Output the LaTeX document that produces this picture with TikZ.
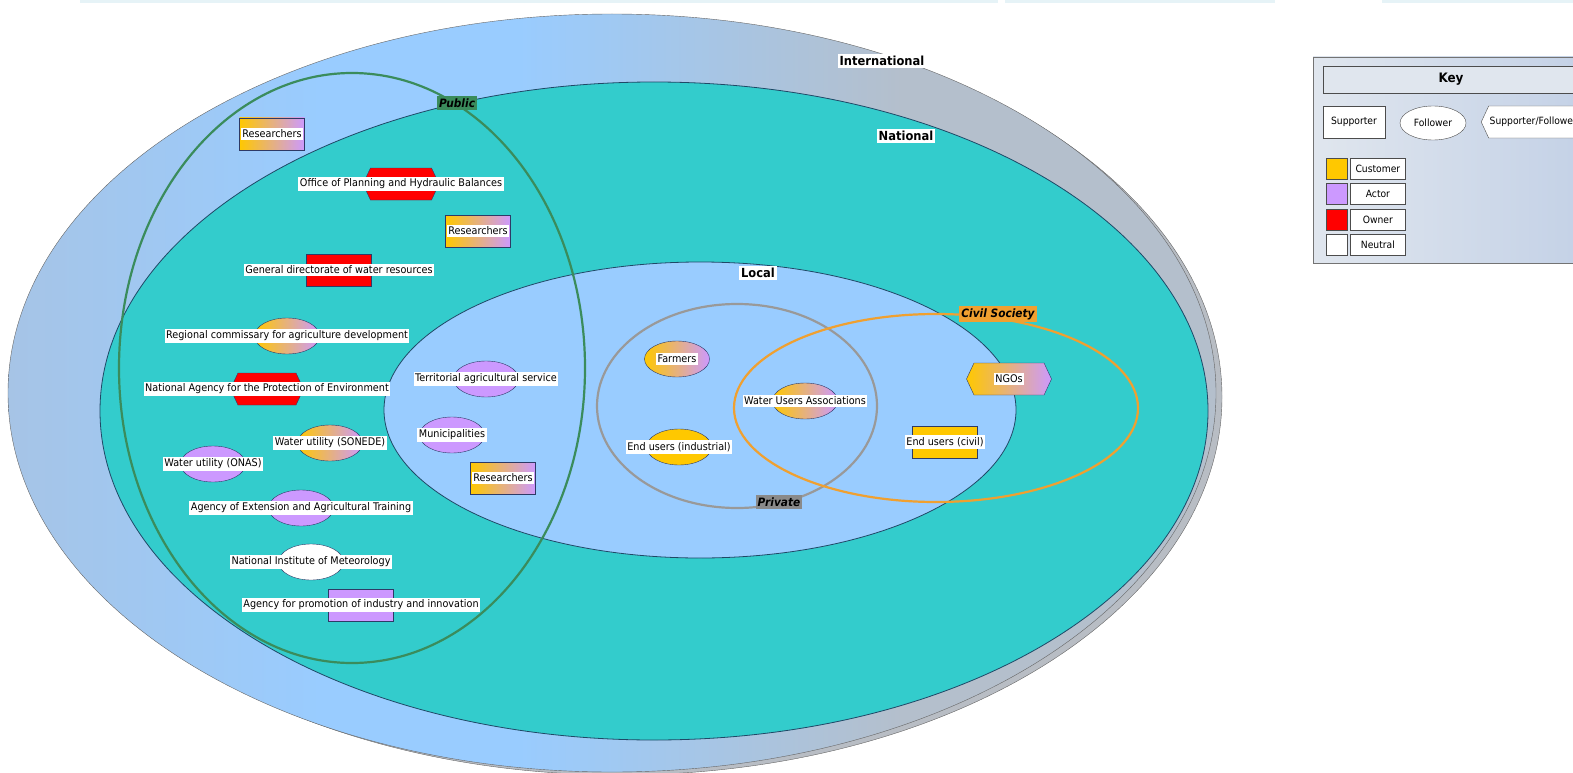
\documentclass[tikz,border=0pt]{standalone}
\usepackage{fontspec}
\setmainfont{DejaVu Sans}[FakeStretch=0.92]
\usetikzlibrary{shapes.geometric,shapes.symbols,positioning}

\definecolor{custyellow}{HTML}{FFC800}
\definecolor{actpurple}{HTML}{CC99FF}
\definecolor{ownred}{HTML}{FF0000}
\definecolor{edgeblue}{HTML}{2E3A66}
\definecolor{intlight}{HTML}{A6C4E6}
\definecolor{intmid}{HTML}{99CCFF}
\definecolor{intgrey}{HTML}{B4BFCC}
\definecolor{shadowgrey}{HTML}{B8BDC4}
\definecolor{natteal}{HTML}{33CCCC}
\definecolor{localblue}{HTML}{99CCFF}
\definecolor{zoneline}{HTML}{1F4866}
\definecolor{pubgreen}{HTML}{3A8C5C}
\definecolor{privgrey}{HTML}{999999}
\definecolor{civorange}{HTML}{F0A030}
\definecolor{keylight}{HTML}{E0E6EE}
\definecolor{keydark}{HTML}{C2D0E6}
\definecolor{stripcyan}{HTML}{E6F3F7}

\pgfdeclarehorizontalshading{intshade}{100bp}{color(0bp)=(intlight); color(25bp)=(intlight); color(38bp)=(intmid); color(46bp)=(intmid); color(62bp)=(intgrey); color(100bp)=(intgrey)}

\begin{document}
\begin{tikzpicture}[x=1pt,y=-1pt,
    zone/.style={draw=zoneline, line width=0.8pt},
    group/.style={line width=2.2pt},
    grouptag/.style={font=\fontsize{11.5}{13}\selectfont\bfseries\itshape, inner xsep=2pt, inner ysep=2.6pt},
    levtag/.style={fill=white, font=\fontsize{12.5}{14}\selectfont\bfseries, inner sep=2pt},
    sup/.style={rectangle, draw=edgeblue, minimum width=65pt, minimum height=32pt, inner sep=0pt},
    fol/.style={ellipse, draw=edgeblue, minimum width=65pt, minimum height=36pt, inner sep=0pt},
    supfol/.style={signal, signal to=east and west, signal pointer angle=130, draw=edgeblue, minimum width=76pt, minimum height=32pt, inner sep=0pt},
    both/.style={left color=custyellow, right color=actpurple},
    tag/.style={fill=white, inner xsep=1.5pt, inner ysep=2.2pt, font=\fontsize{10.5}{12}\selectfont},
    keytag/.style={draw=black!70, fill=white, font=\fontsize{10}{12}\selectfont, inner sep=0pt}]
\useasboundingbox (0,0) rectangle (1573,773);
\clip (0,0) rectangle (1573,773);

% faint strips along the top edge
\fill[stripcyan] (80,0) rectangle (998,3);
\fill[stripcyan] (1005,0) rectangle (1275,3);
\fill[stripcyan] (1382,0) rectangle (1573,3);

% levels
\draw[draw=black!60, fill=shadowgrey] (620,397) ellipse [x radius=602pt, y radius=378pt];
\draw[draw=black!60, shading=intshade] (612,393) ellipse [x radius=604pt, y radius=379pt];
\draw[zone, fill=natteal] (654,411) ellipse [x radius=554pt, y radius=329pt];
\draw[zone, fill=localblue] (700,410) ellipse [x radius=316pt, y radius=148pt];

% groups
\draw[group, draw=pubgreen] (352,368) ellipse [x radius=233pt, y radius=295pt];
\draw[group, draw=privgrey] (737,406) ellipse [x radius=140pt, y radius=102pt];
\draw[group, draw=civorange] (936,408) ellipse [x radius=202pt, y radius=94pt];

\node[levtag] (intl) at (882,61) {International};
\node[levtag] (natl) at (906,136) {National};
\node[levtag] (locl) at (758,273) {Local};
\node[grouptag, fill=pubgreen] (pub) at (457,103) {Public};
\node[grouptag, fill=privgrey!90!black] (priv) at (779,502) {Private};
\node[grouptag, fill=civorange] (civ) at (998,314) {Civil Society};

% stakeholders
\node[sup, both] (res1) at (272,134) {};
\node[tag] at (res1) {Researchers};
\node[supfol, fill=ownred] (ophb) at (401,184) {};
\node[tag] at (ophb) {Office of Planning and Hydraulic Balances};
\node[sup, both] (res2) at (478,231) {};
\node[tag] at (res2) {Researchers};
\node[sup, fill=ownred] (gdwr) at (339,270) {};
\node[tag] at (gdwr) {General directorate of water resources};
\node[fol, both] (rcad) at (287,336) {};
\node[tag] at (rcad) {Regional commissary for agriculture development};
\node[supfol, fill=ownred, minimum width=73pt] (anpe) at (267,389) {};
\node[tag] at (anpe) {National Agency for the Protection of Environment};
\node[fol, fill=actpurple] (tas) at (486,379) {};
\node[tag] at (tas) {Territorial agricultural service};
\node[fol, fill=actpurple] (muni) at (452,435) {};
\node[tag] at (muni) {Municipalities};
\node[sup, both] (res3) at (503,478) {};
\node[tag] at (res3) {Researchers};
\node[fol, both] (sonede) at (330,443) {};
\node[tag] at (sonede) {Water utility (SONEDE)};
\node[fol, fill=actpurple] (onas) at (213,464) {};
\node[tag] at (onas) {Water utility (ONAS)};
\node[fol, fill=actpurple] (aeat) at (301,508) {};
\node[tag] at (aeat) {Agency of Extension and Agricultural Training};
\node[fol, fill=white] (inm) at (311,562) {};
\node[tag] at (inm) {National Institute of Meteorology};
\node[sup, fill=actpurple] (apii) at (361,605) {};
\node[tag] at (apii) {Agency for promotion of industry and innovation};
\node[fol, both] (farm) at (677,359) {};
\node[tag] at (farm) {Farmers};
\node[fol, fill=custyellow] (euind) at (679,447) {};
\node[tag] at (euind) {End users (industrial)};
\node[fol, both] (wua) at (805,401) {};
\node[tag] at (wua) {Water Users Associations};
\node[supfol, both, minimum width=85pt] (ngo) at (1009,379) {};
\node[tag] at (ngo) {NGOs};
\node[sup, fill=custyellow] (euciv) at (945,442) {};
\node[tag] at (euciv) {End users (civil)};

% key
\draw[draw=black!55, left color=keylight, right color=keydark] (1313,57) rectangle (1600,263);
\draw[draw=black!70, fill=keylight] (1323,66) rectangle (1600,93);
\node[font=\fontsize{13}{15}\selectfont\bfseries] (keyt) at (1451,79.5) {Key};
\node[rectangle, draw=black!70, fill=white, minimum width=62pt, minimum height=32pt, font=\fontsize{10}{12}\selectfont] (ksup) at (1354,122) {Supporter};
\node[ellipse, draw=black!70, fill=white, minimum width=66pt, minimum height=34pt, inner sep=0pt, font=\fontsize{10}{12}\selectfont] (kfol) at (1433,123) {Follower};
\node[signal, signal to=east and west, signal pointer angle=130, draw=black!70, fill=white, minimum height=32pt, inner xsep=1pt, anchor=west, font=\fontsize{10}{12}\selectfont] (ksf) at (1481,122) {Supporter/Follower};
\node[draw=black!70, fill=custyellow, minimum size=21pt, inner sep=0pt] (kc) at (1336.5,168.5) {};
\node[keytag, minimum width=55pt, minimum height=21pt, right=3pt of kc] (kcl) {Customer};
\node[draw=black!70, fill=actpurple, minimum size=21pt, inner sep=0pt] (ka) at (1336.5,194) {};
\node[keytag, minimum width=55pt, minimum height=21pt, right=3pt of ka] (kal) {Actor};
\node[draw=black!70, fill=ownred, minimum size=21pt, inner sep=0pt] (ko) at (1336.5,219.5) {};
\node[keytag, minimum width=55pt, minimum height=21pt, right=3pt of ko] (kol) {Owner};
\node[draw=black!70, fill=white, minimum size=21pt, inner sep=0pt] (kn) at (1336.5,245) {};
\node[keytag, minimum width=55pt, minimum height=21pt, right=3pt of kn] (knl) {Neutral};
\end{tikzpicture}
\end{document}
